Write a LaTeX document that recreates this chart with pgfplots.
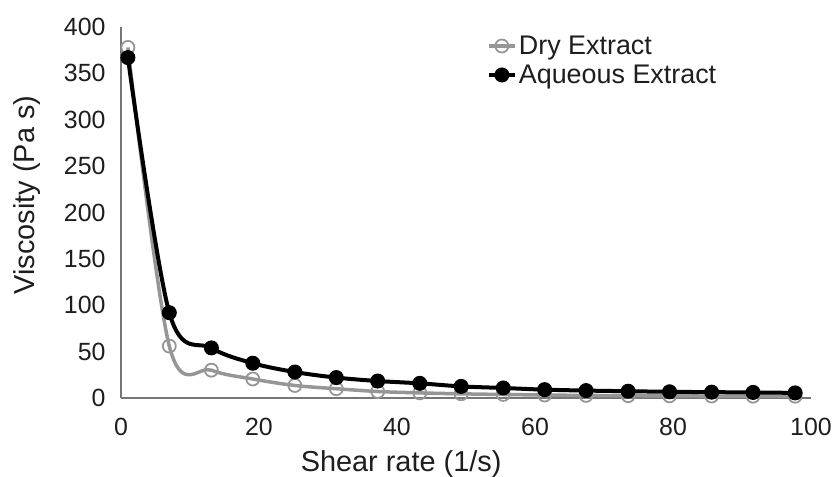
\documentclass[border=0pt]{standalone}
\usepackage{fontspec}
\setmainfont{Liberation Sans}
\usepackage{pgfplots}
\pgfplotsset{compat=1.18}
\definecolor{drygray}{RGB}{150,150,150}
\definecolor{axgray}{RGB}{118,118,118}
\definecolor{txt}{RGB}{30,30,30}
\begin{document}
\begin{tikzpicture}
\begin{axis}[
  at={(0,0)}, anchor=south west,
  scale only axis, width=690bp, height=371bp,
  xmin=0, xmax=100, ymin=0, ymax=400,
  axis x line=bottom, axis y line=left,
  axis line style={axgray, line width=1.5bp, -},
  xtick={0,20,...,100}, ytick={0,50,...,400},
  major tick length=0pt,
  tick label style={font=\fontsize{25}{30}\selectfont, text=txt},
  /pgf/number format/assume math mode=true,
  xticklabel style={yshift=-17bp},
  yticklabel style={xshift=-12bp},
  xlabel={Shear rate (1/s)},
  ylabel={Viscosity (Pa s)},
  label style={font=\fontsize{29}{32}\selectfont, text=txt},
  xlabel style={at={(axis description cs:0.406,0)}, anchor=base, yshift=-73bp},
  ylabel style={at={(axis description cs:0,0.547)}, anchor=center, yshift=94bp, xshift=0bp},
  clip=false,
  legend style={draw=none, fill=none, font=\fontsize{27}{30}\selectfont, text=txt,
    at={(axis cs:53,391.6)}, anchor=north west, inner sep=0pt, row sep=1bp,
    nodes={text height=18bp, text depth=6bp},
    /tikz/every even column/.append style={column sep=0pt}},
  legend cell align=left,
  legend image code/.code={\draw[mark repeat=2,mark phase=2,#1] plot coordinates {(0bp,3bp)(13bp,3bp)(26bp,3bp)};},
]
\addplot[drygray, line width=3.5bp, smooth, tension=0.55, mark=o, mark size=6.5bp,
  mark options={solid, line width=1.8bp, drygray}] coordinates {
  (1.0,378) (7.0,56) (13.1,30) (19.1,20.5) (25.2,13.5) (31.2,10) (37.2,7)
  (43.3,5.5) (49.3,4.5) (55.4,3.8) (61.4,3.2) (67.4,2.8) (73.5,2.5)
  (79.5,2.3) (85.6,2.1) (91.6,2) (97.7,1.9)};
\addlegendentry{Dry Extract}
\addplot[black, line width=4bp, smooth, tension=0.55, mark=*, mark size=7bp,
  mark options={solid, line width=1bp, black, fill=black}] coordinates {
  (1.0,367) (7.0,92) (13.1,54) (19.1,37.5) (25.2,28) (31.2,22) (37.2,18.3)
  (43.3,15.8) (49.3,12.5) (55.4,10.8) (61.4,9) (67.4,8) (73.5,7.3)
  (79.5,6.7) (85.6,6.3) (91.6,6) (97.7,5.5)};
\addlegendentry{Aqueous Extract}
\end{axis}
\pgfresetboundingbox
\path[use as bounding box] (-121bp,-79bp) rectangle (713bp,398bp);
\end{tikzpicture}
\end{document}
